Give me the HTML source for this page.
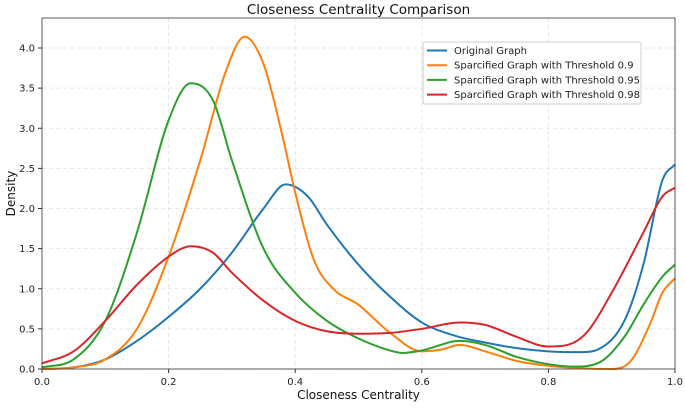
<!DOCTYPE html>
<html><head><meta charset="utf-8"><style>
body{margin:0;background:#fff;font-family:"Liberation Sans","DejaVu Sans",sans-serif;}
svg text{font-family:"DejaVu Sans","Liberation Sans",sans-serif;}
</style></head><body>
<svg id="c" width="685" height="406" xmlns="http://www.w3.org/2000/svg"></svg>
<script>
const xTicks=[0,0.2,0.4,0.6,0.8,1.0];
const xTickLabels=["0.0","0.2","0.4","0.6","0.8","1.0"];
const yTicks=[0,0.5,1,1.5,2,2.5,3,3.5,4];
const yTickLabels=["0.0","0.5","1.0","1.5","2.0","2.5","3.0","3.5","4.0"];
const seriesNames=["Original Graph","Sparcified Graph with Threshold 0.9","Sparcified Graph with Threshold 0.95","Sparcified Graph with Threshold 0.98"];
const blueX=[0,.05,.1,.15,.2,.25,.3,.35,.385,.42,.45,.5,.55,.6,.65,.7,.75,.8,.85,.88,.92,.95,.98,1];
const blueY=[0,0.02,0.12,0.35,0.65,1.0,1.45,2.0,2.3,2.15,1.8,1.3,0.9,0.58,0.42,0.33,0.26,0.22,0.21,0.25,0.6,1.3,2.35,2.55];
const orangeX=[0,.05,.1,.15,.2,.25,.29,.32,.35,.38,.4,.43,.46,.5,.55,.6,.63,.66,.7,.75,.8,.85,.9,.93,.96,.98,1];
const orangeY=[0,0.02,0.12,0.5,1.4,2.6,3.7,4.14,3.8,2.9,2.2,1.35,1.0,0.8,0.45,0.22,0.24,0.3,0.22,0.1,0.04,0.01,0.0,0.1,0.55,0.95,1.13];
const greenX=[0,.05,.1,.15,.2,.235,.27,.3,.35,.4,.45,.5,.55,.57,.6,.66,.7,.75,.8,.84,.88,.92,.95,.98,1];
const greenY=[0.02,0.12,0.6,1.7,3.1,3.56,3.35,2.6,1.5,0.95,0.6,0.38,0.23,0.2,0.23,0.35,0.3,0.15,0.06,0.03,0.08,0.4,0.8,1.15,1.3];
const redX=[0,.05,.1,.15,.2,.235,.27,.3,.35,.4,.45,.5,.55,.6,.66,.7,.75,.8,.83,.86,.9,.95,.98,1];
const redY=[0.07,0.22,0.6,1.05,1.4,1.53,1.45,1.2,0.85,0.6,0.47,0.44,0.45,0.5,0.58,0.55,0.4,0.28,0.3,0.45,0.95,1.7,2.15,2.26];
const colors=["#1f77b4","#ff7f0e","#2ca02c","#d62728"];
const L=42,R=675,T=18,B=369;
const sx=v=>L+v*(R-L), sy=v=>B-v*(B-48)/4;
const svg=document.getElementById('c');const NS="http://www.w3.org/2000/svg";
function mk(t,a,p){const e=document.createElementNS(NS,t);for(const k in a)e.setAttribute(k,a[k]);(p||svg).appendChild(e);return e;}
// grid
xTicks.forEach((v,i)=>{const g=mk('line',{x1:sx(v),x2:sx(v),y1:T,y2:B,stroke:'#e0e0e0','stroke-dasharray':'4,3','stroke-width':0.8});

const tk=mk('line',{x1:sx(v),x2:sx(v),y1:B,y2:B+4,stroke:'#333'});
const t=mk('text',{x:sx(v),y:B+16,'font-size':10,'text-anchor':'middle',fill:'#222'});t.textContent=xTickLabels[i];
});
yTicks.forEach((v,i)=>{const g=mk('line',{x1:L,x2:R,y1:sy(v),y2:sy(v),stroke:'#e0e0e0','stroke-dasharray':'4,3','stroke-width':0.8});

const tk=mk('line',{x1:L-4,x2:L,y1:sy(v),y2:sy(v),stroke:'#333'});
const t=mk('text',{x:L-7,y:sy(v)+3.5,'font-size':10,'text-anchor':'end',fill:'#222'});t.textContent=yTickLabels[i];
});
function mono(xs,ys){const n=xs.length,d=[],m=[];for(let i=0;i<n-1;i++)d.push((ys[i+1]-ys[i])/(xs[i+1]-xs[i]));
m[0]=d[0];m[n-1]=d[n-2];for(let i=1;i<n-1;i++){m[i]=(d[i-1]*d[i]<=0)?0:(d[i-1]+d[i])/2;}
for(let i=0;i<n-1;i++){if(d[i]===0){m[i]=0;m[i+1]=0;continue;}const a=m[i]/d[i],b=m[i+1]/d[i],s=a*a+b*b;if(s>9){const t=3/Math.sqrt(s);m[i]=t*a*d[i];m[i+1]=t*b*d[i];}}
let p="M"+sx(xs[0])+","+sy(ys[0]);for(let i=0;i<n-1;i++){const h=xs[i+1]-xs[i];
p+=" C"+sx(xs[i]+h/3)+","+sy(ys[i]+m[i]*h/3)+" "+sx(xs[i+1]-h/3)+","+sy(ys[i+1]-m[i+1]*h/3)+" "+sx(xs[i+1])+","+sy(ys[i+1]);}return p;}
const data=[[blueX,blueY],[orangeX,orangeY],[greenX,greenY],[redX,redY]];
const lineNames=['original-graph-line','threshold-0.9-line','threshold-0.95-line','threshold-0.98-line'];
data.forEach((s,i)=>{const p=mk('path',{d:mono(s[0],s[1]),fill:'none',stroke:colors[i],'stroke-width':2});
});
const fr=mk('rect',{x:L,y:T,width:R-L,height:B-T,fill:'none',stroke:'#333','stroke-width':0.8});

const tt=mk('text',{x:(L+R)/2,y:14,'font-size':13.5,'text-anchor':'middle',fill:'#111'});tt.textContent='Closeness Centrality Comparison';

const xl=mk('text',{x:(L+R)/2,y:399,'font-size':12,'text-anchor':'middle',fill:'#111'});xl.textContent='Closeness Centrality';

const yl=mk('text',{x:15,y:(T+B)/2,'font-size':12,'text-anchor':'middle',fill:'#111',transform:'rotate(-90 15 '+((T+B)/2)+')'});yl.textContent='Density';

const lg=mk('g',{});
const lb=mk('rect',{x:423,y:42,width:218,height:62,fill:'#fff','fill-opacity':0.85,stroke:'#ccc',rx:2},lg);

seriesNames.forEach((n,i)=>{const y=50.5+i*14.7;
const ln=mk('line',{x1:427,x2:447,y1:y,y2:y,stroke:colors[i],'stroke-width':2},lg);
const t=mk('text',{x:454,y:y+3.5,'font-size':10,fill:'#222'},lg);t.textContent=n;
});
</script>
</body></html>
